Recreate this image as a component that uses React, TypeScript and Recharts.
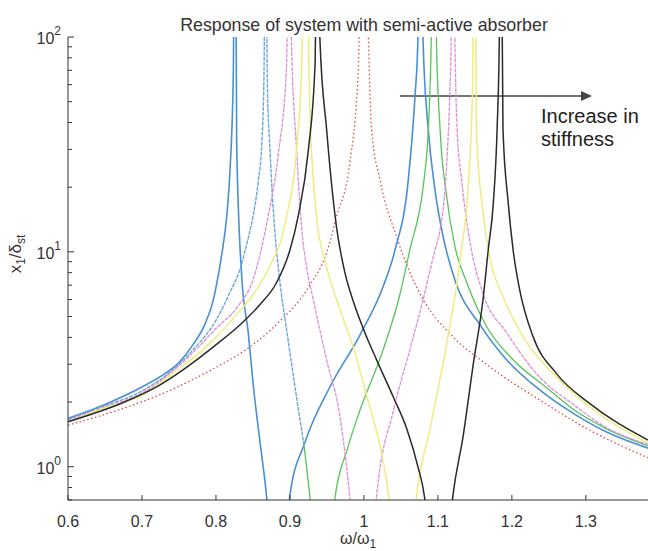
import React from 'react';
import { LineChart, Line, XAxis, YAxis, Customized } from 'recharts';

// frequency ratio / amplitude ratio
const blueX = [0.6, 0.65, 0.7, 0.724, 0.75, 0.769, 0.785, 0.796, 0.801, 0.808, 0.8145, 0.819, 0.8234, 0.826, 0.828, 0.8347, 0.8437, 0.8504, 0.859, 0.8685, 0.885, 0.9, 0.92, 0.954, 0.9946, 1.026, 1.042, 1.06, 1.069, 1.073, 1.076, 1.08, 1.087, 1.096, 1.107, 1.123, 1.157, 1.193, 1.238, 1.283, 1.328, 1.384];
const blueY = [1.68, 1.95, 2.35, 2.62, 3.05, 3.7, 4.6, 5.9, 7.1, 9.8, 14.6, 24, 66, 1000, 32, 7.8, 4.2, 2.4, 1.35, 0.72, 0.1, 0.74, 1.29, 2.35, 4.1, 6.9, 10.2, 21.7, 52.8, 98, 1000, 95, 37, 19.5, 11.8, 7.4, 4.57, 3.14, 2.27, 1.77, 1.45, 1.22];

// second curve: light blue up to ~0.92, green afterwards
const cyanX = [0.6, 0.65, 0.7, 0.75, 0.769, 0.8, 0.82, 0.832, 0.842, 0.85, 0.857, 0.862, 0.865, 0.867, 0.8695, 0.873, 0.88, 0.885, 0.897, 0.909, 0.919];
const cyanY = [1.66, 1.92, 2.25, 3.0, 3.5, 4.8, 6.6, 8.2, 11, 14.6, 21, 32, 70, 1000, 60, 30, 12, 8, 4.0, 2.1, 1.26];
const greenX = [0.919, 0.927, 0.947, 0.961, 0.977, 0.9946, 1.026, 1.049, 1.062, 1.08, 1.086, 1.089, 1.091, 1.094, 1.098, 1.103, 1.112, 1.123, 1.139, 1.166, 1.202, 1.247, 1.283, 1.328, 1.384];
const greenY = [1.26, 0.72, 0.1, 0.72, 1.19, 1.83, 3.5, 6.4, 10.2, 20, 32, 52.8, 98, 1000, 98, 37, 18, 10.6, 7.2, 4.48, 3.14, 2.33, 1.85, 1.5, 1.25];

const pinkX = [0.6, 0.65, 0.7, 0.75, 0.769, 0.8, 0.83, 0.85, 0.8685, 0.884, 0.8955, 0.899, 0.902, 0.909, 0.916, 0.9225, 0.9315, 0.9496, 0.9676, 0.981, 1.0, 1.017, 1.04, 1.062, 1.08, 1.096, 1.103, 1.112, 1.116, 1.118, 1.12, 1.123, 1.126, 1.132, 1.143, 1.161, 1.193, 1.238, 1.283, 1.328, 1.384];
const pinkY = [1.64, 1.9, 2.2, 2.95, 3.4, 4.4, 5.6, 7.4, 13.5, 28, 75, 1000, 98, 30, 12.7, 8.5, 6.0, 3.14, 1.71, 0.72, 0.1, 0.72, 1.83, 3.5, 6.0, 10.2, 12.7, 26, 52.8, 98, 1000, 98, 37, 21.7, 11.3, 6.4, 4.2, 2.6, 1.95, 1.52, 1.27];

const yellowX = [0.6, 0.65, 0.7, 0.75, 0.769, 0.8, 0.83, 0.85, 0.8707, 0.8955, 0.909, 0.916, 0.9205, 0.925, 0.927, 0.936, 0.9496, 0.9676, 0.9855, 1.0036, 1.0216, 1.033, 1.053, 1.071, 1.089, 1.112, 1.13, 1.143, 1.147, 1.1495, 1.152, 1.161, 1.17, 1.188, 1.215, 1.26, 1.305, 1.384];
const yellowY = [1.62, 1.88, 2.15, 2.85, 3.2, 4.0, 5.2, 6.3, 8.3, 14.6, 30, 75, 1000, 98, 45, 14.6, 8.5, 5.4, 3.6, 2.15, 1.25, 0.75, 0.1, 0.72, 1.48, 3.76, 9.2, 26, 63, 1000, 37, 15.2, 9.5, 6.2, 4.03, 2.62, 1.9, 1.29];

const blackX = [0.6, 0.673, 0.724, 0.769, 0.796, 0.837, 0.859, 0.882, 0.9, 0.911, 0.925, 0.934, 0.937, 0.9405, 0.9496, 0.963, 0.9743, 0.9855, 0.999, 1.017, 1.04, 1.058, 1.073, 1.082, 1.1, 1.12, 1.134, 1.148, 1.161, 1.168, 1.175, 1.18, 1.183, 1.1845, 1.188, 1.195, 1.202, 1.21, 1.229, 1.26, 1.305, 1.384];
const blackY = [1.62, 1.98, 2.4, 3.05, 3.6, 4.73, 5.66, 7.2, 10.2, 14.6, 30, 75, 1000, 98, 37, 13, 8.0, 5.9, 4.4, 3.15, 2.1, 1.5, 1.0, 0.72, 0.1, 0.72, 1.38, 3.03, 6.0, 10.2, 17, 37, 98, 1000, 37, 17, 10, 6.8, 4.0, 2.72, 1.97, 1.33];

// no absorber
const redX = [0.6, 0.673, 0.724, 0.769, 0.796, 0.85, 0.882, 0.927, 0.9496, 0.963, 0.981, 0.9923, 1.0, 1.006, 1.0104, 1.0216, 1.044, 1.08, 1.116, 1.17, 1.238, 1.305, 1.384];
const redY = [1.56, 1.86, 2.16, 2.55, 2.85, 3.7, 4.6, 7.0, 9.9, 14.6, 26, 70, 1000, 100, 37, 21.7, 11.8, 6.0, 4.17, 2.92, 2.04, 1.48, 1.1];

const xTicks = [0.6, 0.7, 0.8, 0.9, 1, 1.1, 1.2, 1.3];
const yTicks = [0.7, 0.8, 0.9, 1, 2, 3, 4, 5, 6, 7, 8, 9, 10, 20, 30, 40, 50, 60, 70, 80, 90, 100];

const toPoints = (xs: number[], ys: number[]) => xs.map((x, i) => ({ x, y: ys[i] }));

const font = '"Liberation Sans", Arial, sans-serif';
const ink = '#333';

const BottomTick = (props: any) => {
  const { x, y, payload } = props;
  return (
    <g>
      <line x1={x} y1={y} x2={x} y2={y - 5} stroke={ink} />
      <text x={x} y={y + 27} textAnchor="middle" fontSize={16} fill={ink} fontFamily={font}>
        {String(payload.value)}
      </text>
    </g>
  );
};

const TopTick = (props: any) => {
  const { x, y } = props;
  return <line x1={x} y1={y} x2={x} y2={y + 5} stroke={ink} />;
};

const LeftTick = (props: any) => {
  const { x, y, payload } = props;
  const v = payload.value;
  const exp = Math.round(Math.log10(v));
  const major = Math.abs(Math.log10(v) - exp) < 1e-6;
  return (
    <g>
      <line x1={x} y1={y} x2={x + (major ? 6 : 4)} y2={y} stroke={ink} />
      {major && (
        <text x={x - 7} y={y + 7} textAnchor="end" fontSize={16} fill={ink} fontFamily={font}>
          <tspan>10</tspan>
          <tspan dy={-9} fontSize={12}>{exp}</tspan>
        </text>
      )}
    </g>
  );
};

const Annotations = () => (
  <g fontFamily={font}>
    <text x={364} y={31} textAnchor="middle" fontSize={17.8} fill={ink}>
      Response of system with semi-active absorber
    </text>
    <text x={358} y={544} textAnchor="middle" fontSize={16} fill={ink}>
      ω/ω<tspan dy={4} fontSize={12}>1</tspan>
    </text>
    <text transform="translate(21 254) rotate(-90)" textAnchor="middle" fontSize={17} fill={ink}>
      x<tspan dy={4} fontSize={12}>1</tspan>
      <tspan dy={-4}>/δ</tspan>
      <tspan dy={4} fontSize={12}>st</tspan>
    </text>
    <line x1={400} y1={96} x2={584} y2={96} stroke="#444" strokeWidth={1.5} />
    <polygon points="581,91 592,96 581,101" fill="#444" />
    <text x={541} y={123} fontSize={20} fill="#222">Increase in</text>
    <text x={541} y={146} fontSize={20} fill="#222">stiffness</text>
  </g>
);

export default function App() {
  const series = [
    { key: 'red', data: toPoints(redX, redY), color: '#e04848', dash: '1.5 2.5', w: 1.3 },
    { key: 'blue', data: toPoints(blueX, blueY), color: '#4a8fd4', dash: undefined, w: 1.6 },
    { key: 'cyan', data: toPoints(cyanX, cyanY), color: '#6aa6dc', dash: '4 1', w: 1.4 },
    { key: 'green', data: toPoints(greenX, greenY), color: '#56c456', dash: undefined, w: 1.3 },
    { key: 'pink', data: toPoints(pinkX, pinkY), color: '#de8fd6', dash: '4 1', w: 1.3 },
    { key: 'yellow', data: toPoints(yellowX, yellowY), color: '#eded80', dash: undefined, w: 1.5 },
    { key: 'black', data: toPoints(blackX, blackY), color: '#2a2a2a', dash: undefined, w: 1.5 },
  ];

  return (
    <div style={{ position: 'absolute', left: 0, top: 0, width: 648, height: 551, background: '#fff' }}>
      <LineChart width={648} height={551} margin={{ top: 37, right: 0, bottom: 0, left: 0 }}>
        <XAxis
          dataKey="x"
          type="number"
          domain={[0.6, 1.384]}
          allowDataOverflow
          ticks={xTicks}
          interval={0}
          height={51}
          tickSize={0}
          tickMargin={0}
          tick={<BottomTick />}
          axisLine={{ stroke: ink }}
        />
        <XAxis
          xAxisId="top"
          orientation="top"
          dataKey="x"
          type="number"
          domain={[0.6, 1.384]}
          allowDataOverflow
          ticks={xTicks}
          interval={0}
          height={0}
          tickSize={0}
          tickMargin={0}
          tick={<TopTick />}
          axisLine={{ stroke: '#555' }}
        />
        <YAxis
          dataKey="y"
          type="number"
          scale="log"
          domain={[0.7, 100]}
          allowDataOverflow
          ticks={yTicks}
          interval={0}
          width={68}
          tickSize={0}
          tickMargin={0}
          tick={<LeftTick />}
          axisLine={{ stroke: ink }}
        />
        {series.map((s) => (
          <Line
            key={s.key}
            data={s.data}
            dataKey="y"
            type="monotoneX"
            stroke={s.color}
            strokeWidth={s.w}
            strokeDasharray={s.dash}
            dot={false}
            activeDot={false}
            isAnimationActive={false}
          />
        ))}
        <Customized component={Annotations} />
      </LineChart>
    </div>
  );
}
